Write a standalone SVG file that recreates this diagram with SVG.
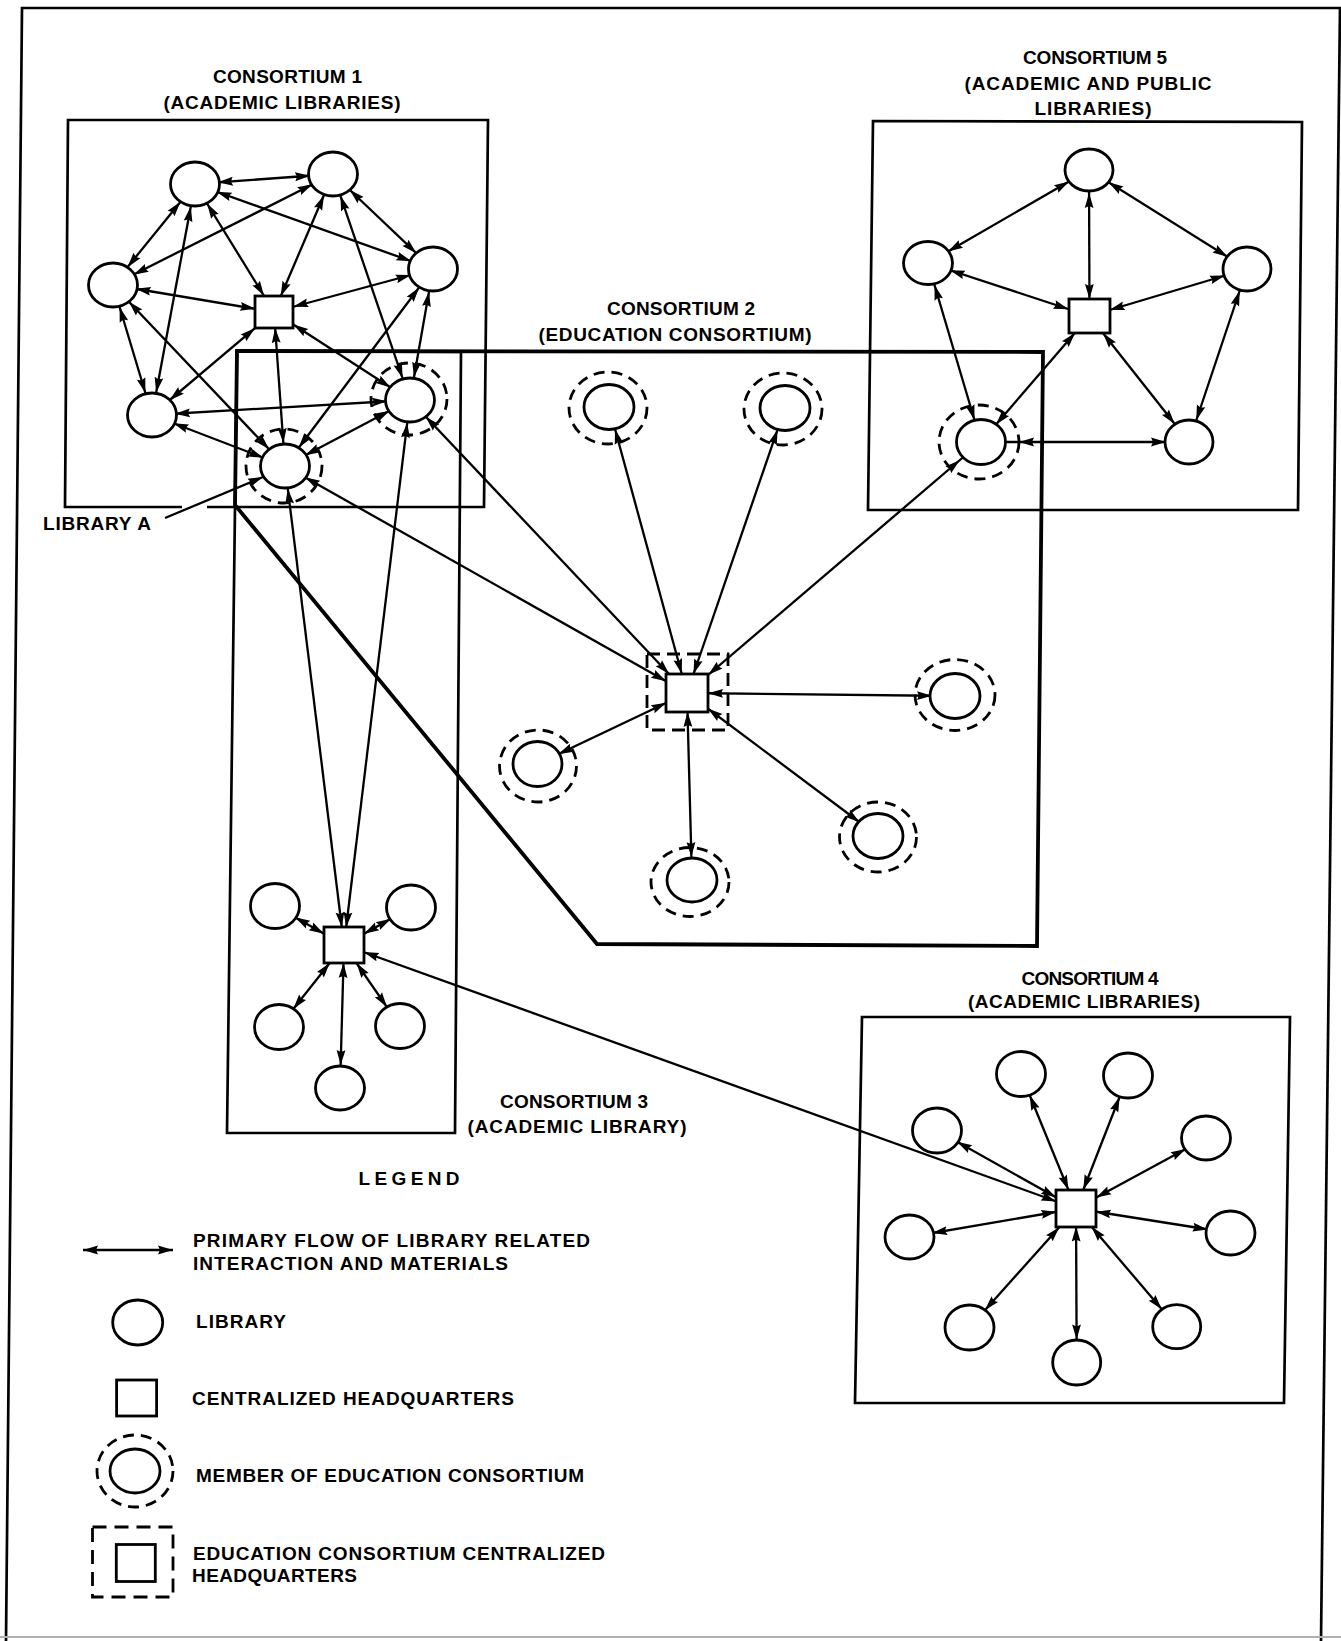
<svg xmlns="http://www.w3.org/2000/svg" width="1341" height="1641" viewBox="0 0 1341 1641">
<defs>
<style>
.b{fill:none;stroke:#000;stroke-width:2.7;stroke-linejoin:miter}
.bt{fill:none;stroke:#000;stroke-width:3.8;stroke-linejoin:miter}
.e{stroke:#000;stroke-width:2.3;fill:none}
.n{fill:#fff;stroke:#000;stroke-width:2.8}
.r{fill:none;stroke:#000;stroke-width:2.8;stroke-dasharray:11 7}
.t{font-family:"Liberation Sans",Arial,sans-serif;font-weight:bold;font-size:19px;fill:#000}
.tm{text-anchor:middle}
</style>
<marker id="m0" markerUnits="userSpaceOnUse" orient="auto-start-reverse" markerWidth="1" markerHeight="1" overflow="visible"><path d="M0,0 L-15,-4.4 L-13,0 L-15,4.4 z"/></marker>
<marker id="m16" markerUnits="userSpaceOnUse" orient="auto-start-reverse" markerWidth="1" markerHeight="1" overflow="visible"><path d="M-16,0 L-31,-4.4 L-29,0 L-31,4.4 z"/></marker>
<marker id="m17" markerUnits="userSpaceOnUse" orient="auto-start-reverse" markerWidth="1" markerHeight="1" overflow="visible"><path d="M-17,0 L-32,-4.4 L-30,0 L-32,4.4 z"/></marker>
<marker id="m18" markerUnits="userSpaceOnUse" orient="auto-start-reverse" markerWidth="1" markerHeight="1" overflow="visible"><path d="M-18,0 L-33,-4.4 L-31,0 L-33,4.4 z"/></marker>
<marker id="m19" markerUnits="userSpaceOnUse" orient="auto-start-reverse" markerWidth="1" markerHeight="1" overflow="visible"><path d="M-19,0 L-34,-4.4 L-32,0 L-34,4.4 z"/></marker>
<marker id="m20" markerUnits="userSpaceOnUse" orient="auto-start-reverse" markerWidth="1" markerHeight="1" overflow="visible"><path d="M-20,0 L-35,-4.4 L-33,0 L-35,4.4 z"/></marker>
<marker id="m21" markerUnits="userSpaceOnUse" orient="auto-start-reverse" markerWidth="1" markerHeight="1" overflow="visible"><path d="M-21,0 L-36,-4.4 L-34,0 L-36,4.4 z"/></marker>
<marker id="m22" markerUnits="userSpaceOnUse" orient="auto-start-reverse" markerWidth="1" markerHeight="1" overflow="visible"><path d="M-22,0 L-37,-4.4 L-35,0 L-37,4.4 z"/></marker>
<marker id="m23" markerUnits="userSpaceOnUse" orient="auto-start-reverse" markerWidth="1" markerHeight="1" overflow="visible"><path d="M-23,0 L-38,-4.4 L-36,0 L-38,4.4 z"/></marker>
<marker id="m24" markerUnits="userSpaceOnUse" orient="auto-start-reverse" markerWidth="1" markerHeight="1" overflow="visible"><path d="M-24,0 L-39,-4.4 L-37,0 L-39,4.4 z"/></marker>
<marker id="m25" markerUnits="userSpaceOnUse" orient="auto-start-reverse" markerWidth="1" markerHeight="1" overflow="visible"><path d="M-25,0 L-40,-4.4 L-38,0 L-40,4.4 z"/></marker>
<marker id="m26" markerUnits="userSpaceOnUse" orient="auto-start-reverse" markerWidth="1" markerHeight="1" overflow="visible"><path d="M-26,0 L-41,-4.4 L-39,0 L-41,4.4 z"/></marker>
<marker id="m28" markerUnits="userSpaceOnUse" orient="auto-start-reverse" markerWidth="1" markerHeight="1" overflow="visible"><path d="M-28,0 L-43,-4.4 L-41,0 L-43,4.4 z"/></marker>
<marker id="m38" markerUnits="userSpaceOnUse" orient="auto-start-reverse" markerWidth="1" markerHeight="1" overflow="visible"><path d="M-38,0 L-53,-4.4 L-51,0 L-53,4.4 z"/></marker>
</defs>
<rect x="0" y="0" width="1341" height="1641" fill="#fff"/>

<g id="frame">
<path class="b" d="M6,1641 L22,8 L1341,8"/>
<path class="b" d="M1340,8 L1321,1641"/>
<line x1="0" y1="1637" x2="1341" y2="1637" stroke="#b0b0b0" stroke-width="2"/>
</g>

<g id="consortium1">
<path class="b" d="M207,507 L484,507 L488,120 L68,120 L65,507 L182,507"/>
<text class="t tm" x="287.5" y="83" textLength="149" lengthAdjust="spacing">CONSORTIUM 1</text>
<text class="t tm" x="282" y="108.5" textLength="237" lengthAdjust="spacing">(ACADEMIC LIBRARIES)</text>
</g>
<g id="consortium2">
<path class="bt" d="M237,351 L1043,352 L1037,946 L597,944 L235,505 Z"/>
<text class="t tm" x="681" y="315" textLength="148" lengthAdjust="spacing">CONSORTIUM 2</text>
<text class="t tm" x="675" y="341" textLength="273" lengthAdjust="spacing">(EDUCATION CONSORTIUM)</text>
</g>
<g id="consortium3">
<path class="b" d="M237,351 L461,352 L455,1133 L227,1133 Z"/>
<text class="t tm" x="574" y="1108" textLength="148" lengthAdjust="spacing">CONSORTIUM 3</text>
<text class="t tm" x="577" y="1133" textLength="219" lengthAdjust="spacing">(ACADEMIC LIBRARY)</text>
</g>
<g id="consortium4">
<path class="b" d="M862,1017 L1290,1017 L1284,1403 L855,1403 Z"/>
<text class="t tm" x="1090" y="985" textLength="137" lengthAdjust="spacing">CONSORTIUM 4</text>
<text class="t tm" x="1084" y="1008" textLength="232" lengthAdjust="spacing">(ACADEMIC LIBRARIES)</text>
</g>
<g id="consortium5">
<path class="b" d="M873,121 L1302,122 L1298,510 L868,510 Z"/>
<text class="t tm" x="1095" y="64" textLength="144" lengthAdjust="spacing">CONSORTIUM 5</text>
<text class="t tm" x="1088" y="90" textLength="247" lengthAdjust="spacing">(ACADEMIC AND PUBLIC</text>
<text class="t tm" x="1093" y="115" textLength="117" lengthAdjust="spacing">LIBRARIES)</text>
</g>

<g id="connectors">
<line class="e" x1="195" y1="184" x2="333" y2="174" marker-start="url(#m23)" marker-end="url(#m23)"/>
<line class="e" x1="195" y1="184" x2="113" y2="285" marker-start="url(#m23)" marker-end="url(#m23)"/>
<line class="e" x1="195" y1="184" x2="152" y2="415" marker-start="url(#m23)" marker-end="url(#m23)"/>
<line class="e" x1="195" y1="184" x2="433" y2="269" marker-start="url(#m23)" marker-end="url(#m23)"/>
<line class="e" x1="333" y1="174" x2="113" y2="285" marker-start="url(#m23)" marker-end="url(#m23)"/>
<line class="e" x1="333" y1="174" x2="433" y2="269" marker-start="url(#m23)" marker-end="url(#m23)"/>
<line class="e" x1="333" y1="174" x2="410" y2="400" marker-start="url(#m23)" marker-end="url(#m23)"/>
<line class="e" x1="113" y1="285" x2="152" y2="415" marker-start="url(#m23)" marker-end="url(#m23)"/>
<line class="e" x1="113" y1="285" x2="285" y2="466" marker-start="url(#m23)" marker-end="url(#m23)"/>
<line class="e" x1="433" y1="269" x2="410" y2="400" marker-start="url(#m23)" marker-end="url(#m23)"/>
<line class="e" x1="433" y1="269" x2="285" y2="466" marker-start="url(#m23)" marker-end="url(#m23)"/>
<line class="e" x1="152" y1="415" x2="410" y2="400" marker-start="url(#m23)" marker-end="url(#m23)"/>
<line class="e" x1="152" y1="415" x2="285" y2="466" marker-start="url(#m23)" marker-end="url(#m23)"/>
<line class="e" x1="410" y1="400" x2="285" y2="466" marker-start="url(#m23)" marker-end="url(#m23)"/>
<line class="e" x1="195" y1="184" x2="274" y2="312" marker-start="url(#m23)" marker-end="url(#m19)"/>
<line class="e" x1="333" y1="174" x2="274" y2="312" marker-start="url(#m23)" marker-end="url(#m17)"/>
<line class="e" x1="113" y1="285" x2="274" y2="312" marker-start="url(#m23)" marker-end="url(#m19)"/>
<line class="e" x1="433" y1="269" x2="274" y2="312" marker-start="url(#m23)" marker-end="url(#m20)"/>
<line class="e" x1="152" y1="415" x2="274" y2="312" marker-start="url(#m23)" marker-end="url(#m25)"/>
<line class="e" x1="410" y1="400" x2="274" y2="312" marker-start="url(#m23)" marker-end="url(#m23)"/>
<line class="e" x1="285" y1="466" x2="274" y2="312" marker-start="url(#m23)" marker-end="url(#m16)"/>
<line class="e" x1="285" y1="466" x2="344" y2="945" marker-start="url(#m23)" marker-end="url(#m18)"/>
<line class="e" x1="410" y1="400" x2="344" y2="945" marker-start="url(#m23)" marker-end="url(#m18)"/>
<line class="e" x1="285" y1="466" x2="687" y2="693" marker-start="url(#m23)" marker-end="url(#m24)"/>
<line class="e" x1="410" y1="400" x2="687" y2="693" marker-start="url(#m23)" marker-end="url(#m26)"/>
<line class="e" x1="981" y1="442" x2="687" y2="693" marker-start="url(#m28)" marker-end="url(#m28)"/>
<line class="e" x1="344" y1="945" x2="1076" y2="1208.5" marker-start="url(#m21)" marker-end="url(#m21)"/>
<line class="e" x1="609" y1="407" x2="687" y2="693" marker-start="url(#m23)" marker-end="url(#m20)"/>
<line class="e" x1="785" y1="408" x2="687" y2="693" marker-start="url(#m23)" marker-end="url(#m20)"/>
<line class="e" x1="955" y1="696" x2="687" y2="693" marker-start="url(#m23)" marker-end="url(#m21)"/>
<line class="e" x1="878" y1="836" x2="687" y2="693" marker-start="url(#m23)" marker-end="url(#m26)"/>
<line class="e" x1="692" y1="880" x2="687" y2="693" marker-start="url(#m23)" marker-end="url(#m19)"/>
<line class="e" x1="537.5" y1="764" x2="687" y2="693" marker-start="url(#m23)" marker-end="url(#m23)"/>
<line class="e" x1="275" y1="906" x2="344" y2="945" marker-start="url(#m23)" marker-end="url(#m23)"/>
<line class="e" x1="411" y1="907.5" x2="344" y2="945" marker-start="url(#m23)" marker-end="url(#m23)"/>
<line class="e" x1="279" y1="1027" x2="344" y2="945" marker-start="url(#m23)" marker-end="url(#m23)"/>
<line class="e" x1="400" y1="1026" x2="344" y2="945" marker-start="url(#m23)" marker-end="url(#m22)"/>
<line class="e" x1="340" y1="1088" x2="344" y2="945" marker-start="url(#m23)" marker-end="url(#m18)"/>
<line class="e" x1="1021" y1="1074" x2="1076" y2="1208.5" marker-start="url(#m23)" marker-end="url(#m20)"/>
<line class="e" x1="1128" y1="1075.5" x2="1076" y2="1208.5" marker-start="url(#m23)" marker-end="url(#m20)"/>
<line class="e" x1="937" y1="1130.5" x2="1076" y2="1208.5" marker-start="url(#m23)" marker-end="url(#m23)"/>
<line class="e" x1="1206" y1="1138" x2="1076" y2="1208.5" marker-start="url(#m23)" marker-end="url(#m23)"/>
<line class="e" x1="909.5" y1="1237" x2="1076" y2="1208.5" marker-start="url(#m23)" marker-end="url(#m20)"/>
<line class="e" x1="1230.5" y1="1233" x2="1076" y2="1208.5" marker-start="url(#m23)" marker-end="url(#m20)"/>
<line class="e" x1="969.5" y1="1327.5" x2="1076" y2="1208.5" marker-start="url(#m23)" marker-end="url(#m25)"/>
<line class="e" x1="1076.7" y1="1362.5" x2="1076" y2="1208.5" marker-start="url(#m23)" marker-end="url(#m18)"/>
<line class="e" x1="1176.7" y1="1326.7" x2="1076" y2="1208.5" marker-start="url(#m23)" marker-end="url(#m24)"/>
<line class="e" x1="1089" y1="170" x2="928" y2="263" marker-start="url(#m23)" marker-end="url(#m23)"/>
<line class="e" x1="1089" y1="170" x2="1247" y2="269" marker-start="url(#m23)" marker-end="url(#m23)"/>
<line class="e" x1="1089" y1="170" x2="1089.5" y2="316" marker-start="url(#m23)" marker-end="url(#m17)"/>
<line class="e" x1="928" y1="263" x2="1089.5" y2="316" marker-start="url(#m23)" marker-end="url(#m22)"/>
<line class="e" x1="1247" y1="269" x2="1089.5" y2="316" marker-start="url(#m23)" marker-end="url(#m21)"/>
<line class="e" x1="928" y1="263" x2="981" y2="442" marker-start="url(#m23)" marker-end="url(#m23)"/>
<line class="e" x1="1247" y1="269" x2="1189" y2="442" marker-start="url(#m23)" marker-end="url(#m23)"/>
<line class="e" x1="1089.5" y1="316" x2="981" y2="442" marker-start="url(#m22)" marker-end="url(#m23)"/>
<line class="e" x1="1089.5" y1="316" x2="1189" y2="442" marker-start="url(#m22)" marker-end="url(#m23)"/>
<line class="e" x1="981" y1="442" x2="1189" y2="442" marker-start="url(#m38)" marker-end="url(#m23)"/>
<line class="e" x1="165" y1="518" x2="263" y2="477" marker-end="url(#m0)"/>
</g>

<g id="c1-lib-tl"><ellipse class="n" cx="195" cy="184" rx="24.5" ry="22"/></g>
<g id="c1-lib-tr"><ellipse class="n" cx="333" cy="174" rx="24.5" ry="22"/></g>
<g id="c1-lib-l"><ellipse class="n" cx="113" cy="285" rx="24.5" ry="22"/></g>
<g id="c1-lib-r"><ellipse class="n" cx="433" cy="269" rx="24.5" ry="22"/></g>
<g id="c1-hq"><rect class="n" x="255" y="296" width="38" height="32"/></g>
<g id="c1-lib-bl"><ellipse class="n" cx="152" cy="415" rx="24.5" ry="22"/></g>
<g id="c1-lib-br"><ellipse class="n" cx="410" cy="400" rx="24.5" ry="22"/><ellipse class="r" cx="409" cy="399" rx="38" ry="36"/></g>
<g id="c1-library-a"><ellipse class="n" cx="285" cy="466" rx="24.5" ry="22"/><ellipse class="r" cx="284" cy="466" rx="38" ry="37"/>
<text class="t" x="43" y="530" textLength="108" lengthAdjust="spacing">LIBRARY A</text></g>

<g id="c2-hq"><rect class="n" x="666" y="674" width="42" height="38"/><rect class="r" x="647" y="654" width="81" height="76" style="stroke-dasharray:13 7"/></g>
<g id="c2-lib-1"><ellipse class="n" cx="609" cy="407" rx="25" ry="22.5"/><ellipse class="r" cx="608" cy="408" rx="39" ry="36"/></g>
<g id="c2-lib-2"><ellipse class="n" cx="785" cy="408" rx="25" ry="22.5"/><ellipse class="r" cx="783" cy="409" rx="39" ry="36"/></g>
<g id="c2-lib-3"><ellipse class="n" cx="955" cy="696" rx="25" ry="22.5"/><ellipse class="r" cx="955" cy="695" rx="40" ry="35.5"/></g>
<g id="c2-lib-4"><ellipse class="n" cx="878" cy="836" rx="25" ry="22.5"/><ellipse class="r" cx="878" cy="837" rx="38.5" ry="35"/></g>
<g id="c2-lib-5"><ellipse class="n" cx="692" cy="880" rx="25" ry="22"/><ellipse class="r" cx="690" cy="882" rx="39" ry="34.5"/></g>
<g id="c2-lib-6"><ellipse class="n" cx="537.5" cy="764" rx="24.5" ry="22.5"/><ellipse class="r" cx="538" cy="766" rx="38.5" ry="36"/></g>

<g id="c3-hq"><rect class="n" x="324" y="927" width="40" height="36"/></g>
<g id="c3-lib-tl"><ellipse class="n" cx="275" cy="906" rx="24.5" ry="22.5"/></g>
<g id="c3-lib-tr"><ellipse class="n" cx="411" cy="907.5" rx="24.5" ry="22.5"/></g>
<g id="c3-lib-bl"><ellipse class="n" cx="279" cy="1027" rx="24.5" ry="22.5"/></g>
<g id="c3-lib-br"><ellipse class="n" cx="400" cy="1026" rx="24.5" ry="22.5"/></g>
<g id="c3-lib-b"><ellipse class="n" cx="340" cy="1088" rx="24.5" ry="22"/></g>

<g id="c4-hq"><rect class="n" x="1056" y="1190" width="40" height="37"/></g>
<g id="c4-lib-1"><ellipse class="n" cx="1021" cy="1074" rx="24.5" ry="22.5"/></g>
<g id="c4-lib-2"><ellipse class="n" cx="1128" cy="1075.5" rx="24.5" ry="22.5"/></g>
<g id="c4-lib-3"><ellipse class="n" cx="937" cy="1130.5" rx="24.5" ry="22.5"/></g>
<g id="c4-lib-4"><ellipse class="n" cx="1206" cy="1138" rx="24.5" ry="22"/></g>
<g id="c4-lib-5"><ellipse class="n" cx="909.5" cy="1237" rx="24.5" ry="22"/></g>
<g id="c4-lib-6"><ellipse class="n" cx="1230.5" cy="1233" rx="24.5" ry="22"/></g>
<g id="c4-lib-7"><ellipse class="n" cx="969.5" cy="1327.5" rx="24.5" ry="22.5"/></g>
<g id="c4-lib-8"><ellipse class="n" cx="1076.7" cy="1362.5" rx="24" ry="22.5"/></g>
<g id="c4-lib-9"><ellipse class="n" cx="1176.7" cy="1326.7" rx="24" ry="22"/></g>

<g id="c5-hq"><rect class="n" x="1069" y="299" width="41" height="34"/></g>
<g id="c5-lib-top"><ellipse class="n" cx="1089" cy="170" rx="24" ry="21"/></g>
<g id="c5-lib-l"><ellipse class="n" cx="928" cy="263" rx="24.5" ry="21.5"/></g>
<g id="c5-lib-r"><ellipse class="n" cx="1247" cy="269" rx="24" ry="22"/></g>
<g id="c5-lib-bl"><ellipse class="n" cx="981" cy="442" rx="24.5" ry="22.5"/><ellipse class="r" cx="979" cy="442" rx="40" ry="37"/></g>
<g id="c5-lib-br"><ellipse class="n" cx="1189" cy="442" rx="24" ry="22"/></g>

<g id="legend">
<text class="t tm" x="409" y="1185" textLength="101" lengthAdjust="spacing">LEGEND</text>
<line class="e" x1="83" y1="1250" x2="173" y2="1250" marker-start="url(#m0)" marker-end="url(#m0)"/>
<text class="t" x="193" y="1247" textLength="397" lengthAdjust="spacing">PRIMARY FLOW OF LIBRARY RELATED</text>
<text class="t" x="193" y="1270" textLength="315" lengthAdjust="spacing">INTERACTION AND MATERIALS</text>
<ellipse class="n" cx="137.7" cy="1322.5" rx="25" ry="22.5"/>
<text class="t" x="196" y="1328" textLength="90" lengthAdjust="spacing">LIBRARY</text>
<rect class="n" x="116.6" y="1380" width="40" height="36"/>
<text class="t" x="192" y="1405" textLength="322" lengthAdjust="spacing">CENTRALIZED HEADQUARTERS</text>
<ellipse class="n" cx="135" cy="1471" rx="25" ry="22"/>
<ellipse class="r" cx="135" cy="1471" rx="38" ry="36"/>
<text class="t" x="196" y="1482" textLength="388" lengthAdjust="spacing">MEMBER OF EDUCATION CONSORTIUM</text>
<rect class="r" x="92.5" y="1527" width="80.5" height="70" style="stroke-dasharray:14 8"/>
<rect class="n" x="116.3" y="1544.5" width="39" height="37"/>
<text class="t" x="193" y="1560" textLength="412" lengthAdjust="spacing">EDUCATION CONSORTIUM CENTRALIZED</text>
<text class="t" x="192" y="1582" textLength="165" lengthAdjust="spacing">HEADQUARTERS</text>
</g>
</svg>
